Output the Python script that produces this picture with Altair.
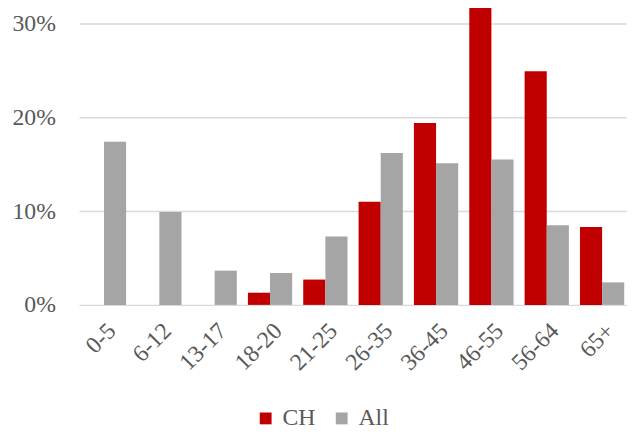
import altair as alt
import pandas as pd

categories = ["0-5", "6-12", "13-17", "18-20", "21-25", "26-35", "36-45", "46-55", "56-64", "65+"]
ch_values = [None, None, None, 1.3, 2.7, 11.0, 19.4, 31.9, 24.9, 8.3]
all_values = [17.4, 9.9, 3.65, 3.4, 7.3, 16.2, 15.1, 15.5, 8.5, 2.4]
series = ["CH", "All"]
colors = ["#c00000", "#a5a5a5"]
y_ticks = [0, 10, 20, 30]

rows = []
for c, a, b in zip(categories, ch_values, all_values):
    rows.append({"age": c, "series": "CH", "value": a})
    rows.append({"age": c, "series": "All", "value": b})
df = pd.DataFrame(rows)

FONT = "Liberation Serif"
TXT = "#595959"

chart = alt.Chart(df).mark_bar().encode(
    x=alt.X("age:N", sort=categories, title=None,
            scale=alt.Scale(paddingInner=0.2, paddingOuter=0.05),
            axis=alt.Axis(labelAngle=-45, domain=False, ticks=False, labelPadding=14,
                          labelFont=FONT, labelFontSize=24, labelColor=TXT)),
    xOffset=alt.XOffset("series:N", sort=series),
    y=alt.Y("value:Q", title=None,
            scale=alt.Scale(domain=[0, 31.37], nice=False),
            axis=alt.Axis(values=y_ticks, labelExpr="datum.value + '%'", domain=False, ticks=False,
                          labelPadding=24, gridColor="#d9d9d9", gridWidth=1.5,
                          labelFont=FONT, labelFontSize=24, labelColor=TXT)),
    color=alt.Color("series:N", sort=series,
                    scale=alt.Scale(domain=series, range=colors),
                    legend=alt.Legend(title=None, orient="none", direction="horizontal",
                                      legendX=177, legendY=401, symbolType="square",
                                      symbolSize=144, symbolStrokeWidth=0, labelOffset=5,
                                      columnPadding=14, padding=0,
                                      labelFont=FONT, labelFontSize=24, labelColor=TXT)),
).properties(
    width=555, height=298,
    autosize=alt.AutoSizeParams(type="none"),
    padding={"left": 72, "top": 0, "right": 0, "bottom": 124},
).configure_view(stroke=None)

chart.save("out.html", embed_options={"renderer": "svg", "actions": False})
